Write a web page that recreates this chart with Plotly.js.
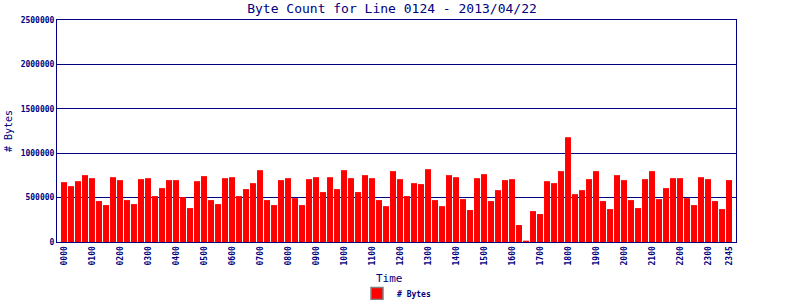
<!DOCTYPE html>
<html>
<head>
<meta charset="utf-8">
<script src="https://cdn.plot.ly/plotly-3.0.1.min.js"></script>
<style>html,body{margin:0;padding:0;background:#fff;}#chart{width:800px;height:300px;}</style>
</head>
<body>
<div id="chart"></div>
<script>
// 15-minute slots, index 0..95
const slotIndex = Array.from({length: 96}, (_, i) => i);
const byteCounts = [
  674000,629000,685000,753000,719000,461000,416000,730000,697000,472000,427000,708000,
  719000,517000,607000,697000,697000,506000,382000,685000,742000,472000,427000,719000,
  730000,517000,596000,663000,809000,472000,416000,697000,719000,494000,416000,708000,
  730000,562000,730000,596000,809000,719000,562000,753000,719000,472000,404000,798000,
  708000,517000,663000,652000,820000,472000,404000,753000,730000,483000,360000,719000,
  764000,461000,584000,697000,708000,191000,15000,348000,315000,685000,663000,798000,
  1180000,539000,584000,708000,798000,461000,371000,753000,697000,472000,382000,708000,
  798000,483000,607000,719000,719000,494000,416000,730000,708000,461000,371000,697000
];
const tickPositions = [0,4,8,12,16,20,24,28,32,36,40,44,48,52,56,60,64,68,72,76,80,84,88,92,95];
const tickLabels = ["0000","0100","0200","0300","0400","0500","0600","0700","0800","0900","1000","1100",
  "1200","1300","1400","1500","1600","1700","1800","1900","2000","2100","2200","2300","2345"];
const yTicks = [0,500000,1000000,1500000,2000000,2500000];

const navy = '#000080';
const mono = 'DejaVu Sans Mono, monospace';

const traces = [
  {type: 'bar', x: slotIndex, y: byteCounts, name: '# Bytes', width: 0.85,
   marker: {color: '#ff0000', line: {width: 0}}, showlegend: false, hoverinfo: 'x+y'},
  {type: 'bar', x: [null], y: [null], name: '# Bytes',
   marker: {color: '#ff0000', line: {color: '#808080', width: 1.5}}, showlegend: true}
];

const layout = {
  width: 800, height: 300,
  margin: {l: 57, r: 64, t: 20, b: 58, pad: 0},
  paper_bgcolor: '#ffffff', plot_bgcolor: '#ffffff',
  bargap: 0.15,
  title: {text: 'Byte Count for Line 0124 - 2013/04/22', font: {family: mono, size: 13, color: navy},
          x: 0.49, xanchor: 'center', yref: 'container', y: 0.973, yanchor: 'middle'},
  xaxis: {
    range: [-1, 96], tickmode: 'array', tickvals: tickPositions, ticktext: tickLabels,
    tickangle: -90, tickfont: {family: mono, size: 8, color: navy, weight: 'bold'},
    ticks: '', showgrid: false, zeroline: false, automargin: false,
    showline: true, linecolor: navy, linewidth: 1, mirror: true
  },
  yaxis: {
    range: [0, 2500000], tickmode: 'array', tickvals: yTicks, tickformat: 'd',
    tickfont: {family: mono, size: 8, color: navy, weight: 'bold'},
    ticks: '', showgrid: true, gridcolor: navy, gridwidth: 1, zeroline: false,
    showline: true, linecolor: navy, linewidth: 1, mirror: true, automargin: false,
    title: {text: '# Bytes', font: {family: mono, size: 10, color: navy}, standoff: 6}
  },
  annotations: [
    {text: 'Time', xref: 'paper', yref: 'paper', x: 0.49, y: -(278 - 242) / 222,
     xanchor: 'center', yanchor: 'middle', showarrow: false,
     font: {family: mono, size: 11, color: navy}}
  ],
  legend: {orientation: 'h', x: 0.5, xanchor: 'center', yref: 'container', y: 0.022, yanchor: 'middle',
           font: {family: mono, size: 8, color: navy, weight: 'bold'},
           bgcolor: 'rgba(0,0,0,0)'}
};

Plotly.newPlot('chart', traces, layout, {staticPlot: true, displayModeBar: false});
</script>
</body>
</html>
